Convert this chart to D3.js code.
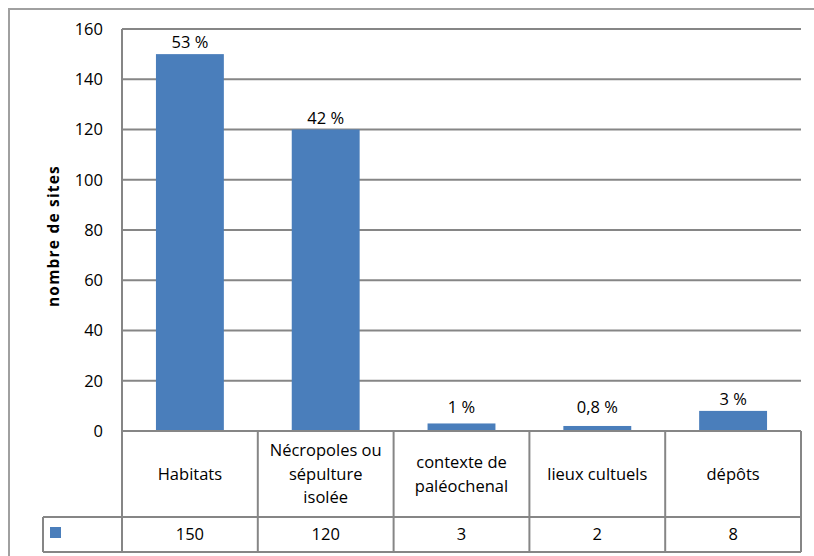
<!DOCTYPE html>
<html>
<head>
<meta charset="utf-8">
<script src="https://cdn.jsdelivr.net/npm/d3@7"></script>
<style>
  body { margin: 0; background: #fff; }
  text { font-family: "Open Sans", Lato, sans-serif; fill: #000; }
</style>
</head>
<body>
<div id="chart"></div>
<script>
const categories = ['Habitats', 'Nécropoles ou sépulture isolée', 'contexte de paléochenal', 'lieux cultuels', 'dépôts'];
const categoryLines = [['Habitats'], ['Nécropoles ou', 'sépulture', 'isolée'], ['contexte de', 'paléochenal'], ['lieux cultuels'], ['dépôts']];
const values = [150, 120, 3, 2, 8];
const percents = ['53 %', '42 %', '1 %', '0,8 %', '3 %'];
const yTicks = [0, 20, 40, 60, 80, 100, 120, 140, 160];

const width = 814, height = 556;
const plotLeft = 122, plotRight = 801, plotTop = 29, zeroY = 431;
const rowCatBottom = 517, rowValBottom = 552, legendLeft = 43;
const gray = '#868686';
const blue = '#4a7ebb';
const fs = 16.5;

const svg = d3.select('#chart').append('svg')
  .attr('width', width)
  .attr('height', height);

// outer frame
svg.append('path')
  .attr('d', `M9,${height} L9,9 L${width},9`)
  .attr('fill', 'none')
  .attr('stroke', '#a0a0a0')
  .attr('stroke-width', 2);

const x = d3.scaleBand()
  .domain(categories)
  .range([plotLeft, plotRight])
  .paddingInner(0.5)
  .paddingOuter(0.25);

const y = d3.scaleLinear()
  .domain([0, 160])
  .range([zeroY, plotTop]);

// gridlines
svg.append('g')
  .selectAll('line')
  .data(yTicks)
  .enter().append('line')
    .attr('x1', plotLeft)
    .attr('x2', plotRight)
    .attr('y1', d => y(d))
    .attr('y2', d => y(d))
    .attr('stroke', gray)
    .attr('stroke-width', 2);

svg.append('line')
  .attr('x1', plotLeft).attr('x2', plotLeft)
  .attr('y1', plotTop).attr('y2', zeroY)
  .attr('stroke', gray)
  .attr('stroke-width', 2);

// y tick labels
svg.append('g')
  .selectAll('text')
  .data(yTicks)
  .enter().append('text')
    .attr('x', 103)
    .attr('y', d => y(d))
    .attr('dy', '0.35em')
    .attr('text-anchor', 'end')
    .attr('font-size', fs)
    .text(d => d);

// y title
svg.append('text')
  .attr('transform', `translate(59,${(plotTop + zeroY) / 2 + 6}) rotate(-90)`)
  .attr('text-anchor', 'middle')
  .attr('font-size', 15.5)
  .attr('letter-spacing', 1.2)
  .attr('font-weight', 'bold')
  .text('nombre de sites');

// bars
svg.append('g')
  .selectAll('rect')
  .data(values)
  .enter().append('rect')
    .attr('x', (d, i) => x(categories[i]))
    .attr('y', d => y(d))
    .attr('width', x.bandwidth())
    .attr('height', d => zeroY - y(d))
    .attr('fill', blue);

// percent labels
svg.append('g')
  .selectAll('text')
  .data(values)
  .enter().append('text')
    .attr('x', (d, i) => x(categories[i]) + x.bandwidth() / 2)
    .attr('y', d => Math.min(y(d) - 6, y(3) - 10))
    .attr('text-anchor', 'middle')
    .attr('font-size', fs)
    .text((d, i) => percents[i]);

// data table
const step = x.step();
const table = svg.append('g')
  .attr('stroke', gray)
  .attr('stroke-width', 2)
  .attr('fill', 'none');

table.append('line').attr('x1', plotLeft).attr('x2', plotRight).attr('y1', zeroY).attr('y2', zeroY);
table.append('line').attr('x1', legendLeft).attr('x2', plotRight).attr('y1', rowCatBottom).attr('y2', rowCatBottom);
table.append('line').attr('x1', legendLeft).attr('x2', plotRight).attr('y1', rowValBottom).attr('y2', rowValBottom);
table.append('line').attr('x1', legendLeft).attr('x2', legendLeft).attr('y1', rowCatBottom).attr('y2', rowValBottom);
table.selectAll('line.v')
  .data(d3.range(categories.length + 1))
  .enter().append('line')
    .attr('class', 'v')
    .attr('x1', i => plotLeft + i * step)
    .attr('x2', i => plotLeft + i * step)
    .attr('y1', zeroY)
    .attr('y2', rowValBottom);

// category cells
const catMid = (zeroY + rowCatBottom) / 2;
categoryLines.forEach((lines, i) => {
  const cx = x(categories[i]) + x.bandwidth() / 2;
  const lh = 23.5;
  const t = svg.append('text')
    .attr('text-anchor', 'middle')
    .attr('font-size', fs);
  lines.forEach((ln, j) => {
    t.append('tspan')
      .attr('x', cx)
      .attr('y', catMid + (j - (lines.length - 1) / 2) * lh)
      .attr('dy', '0.35em')
      .text(ln);
  });
});

// value cells
svg.append('g')
  .selectAll('text')
  .data(values)
  .enter().append('text')
    .attr('x', (d, i) => x(categories[i]) + x.bandwidth() / 2)
    .attr('y', (rowCatBottom + rowValBottom) / 2)
    .attr('dy', '0.35em')
    .attr('text-anchor', 'middle')
    .attr('font-size', fs)
    .text(d => d);

// legend key
svg.append('rect')
  .attr('x', 50)
  .attr('y', 527)
  .attr('width', 11)
  .attr('height', 11)
  .attr('fill', blue);
</script>
</body>
</html>
